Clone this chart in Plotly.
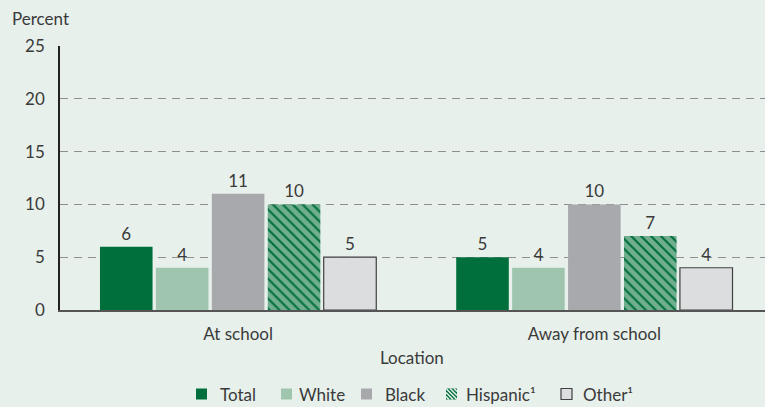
import plotly.graph_objects as go

locations = ["At school", "Away from school"]
series = ["Total", "White", "Black", "Hispanic¹", "Other¹"]
values = {
    "Total": [6, 5],
    "White": [4, 4],
    "Black": [11, 10],
    "Hispanic¹": [10, 7],
    "Other¹": [5, 4],
}
y_ticks = [0, 5, 10, 15, 20, 25]

colors = {
    "Total": "#006F3B",
    "White": "#9FC5AF",
    "Black": "#A7A9AC",
    "Hispanic¹": "#006F3B",
    "Other¹": "#DCDDDE",
}

BG = "#E7F0EB"
FONT = "Lato"
TXT = "#3a3a3a"
FS = 17
W, H = 765, 407
ML, MR, MT, MB = 60, 0, 46, 97
PW, PH = W - ML - MR, H - MT - MB


def px(x):
    return (x - ML) / PW


def py(y):
    return (H - MB - y) / PH


fig = go.Figure()
for s in series:
    marker = dict(color=colors[s], line=dict(width=0))
    if s == "Hispanic¹":
        marker = dict(color="#006F3B",
                      pattern=dict(shape="\\", fgcolor="#E2EEE6", bgcolor="#006F3B",
                                   size=7, solidity=0.7, fillmode="overlay"),
                      line=dict(width=0))
    if s == "Other¹":
        marker = dict(color=colors[s], line=dict(width=1.2, color="#404040"))
    fig.add_trace(go.Bar(
        name=s, x=locations, y=values[s], marker=marker,
        text=[str(v) for v in values[s]], textposition="outside",
        textfont=dict(size=FS, color=TXT, family=FONT), cliponaxis=False,
        showlegend=False,
    ))

# custom legend (symbols + text)
legend_sq = [196, 281, 361, 446, 561]
legend_tx = [218, 297, 383, 464, 581]
LY = 394
SQ = 11
shapes = []
annotations = []
for s, sx, tx in zip(series, legend_sq, legend_tx):
    line = dict(width=0)
    if s == "Other¹":
        line = dict(width=1.2, color="#404040")
    shapes.append(dict(type="rect", xref="paper", yref="paper",
                       x0=px(sx), x1=px(sx + SQ), y0=py(LY + SQ / 2), y1=py(LY - SQ / 2),
                       fillcolor=colors[s], line=line, layer="above"))
    if s == "Hispanic¹":
        x0, x1 = sx, sx + SQ
        y0, y1 = LY - SQ / 2, LY + SQ / 2
        for d in [-8, -4, 0, 4, 8]:
            if d >= 0:
                a = (x0 + d, y0)
                b = (x1, y1 - d)
            else:
                a = (x0, y0 - d)
                b = (x1 + d, y1)
            shapes.append(dict(type="line", xref="paper", yref="paper",
                               x0=px(a[0]), y0=py(a[1]), x1=px(b[0]), y1=py(b[1]),
                               line=dict(color="#E2EEE6", width=1.6), layer="above"))
    annotations.append(dict(text=s, xref="paper", yref="paper", x=px(tx), y=py(LY),
                            xanchor="left", yanchor="middle", showarrow=False,
                            font=dict(size=FS, color=TXT, family=FONT)))

annotations.append(dict(text="Percent", xref="paper", yref="paper", x=px(10), y=py(18),
                        xanchor="left", yanchor="middle", showarrow=False,
                        font=dict(size=FS, color=TXT, family=FONT)))
annotations.append(dict(text="Location", xref="paper", yref="paper", x=px(412), y=py(357),
                        xanchor="center", yanchor="middle", showarrow=False,
                        font=dict(size=FS, color=TXT, family=FONT)))

fig.update_layout(
    width=W, height=H,
    paper_bgcolor=BG, plot_bgcolor=BG,
    margin=dict(l=ML, r=MR, t=MT, b=MB),
    barmode="group", bargap=0.215, bargroupgap=0.06,
    font=dict(family=FONT, size=FS, color=TXT),
    showlegend=False,
    xaxis=dict(range=[-0.5, 1.479], showline=True, linecolor="#555555", linewidth=2,
               ticks="", tickfont=dict(size=FS, color=TXT), ticklabelstandoff=8),
    yaxis=dict(range=[0, 25], tickvals=y_ticks, showline=True, linecolor="#222222",
               linewidth=1.5, gridcolor="#8f8f8f", griddash="8px,6px", gridwidth=1,
               zeroline=False, ticks="", tickfont=dict(size=FS, color=TXT),
               ticklabelstandoff=10),
    shapes=shapes,
    annotations=annotations,
)

fig.write_html("out.html")
